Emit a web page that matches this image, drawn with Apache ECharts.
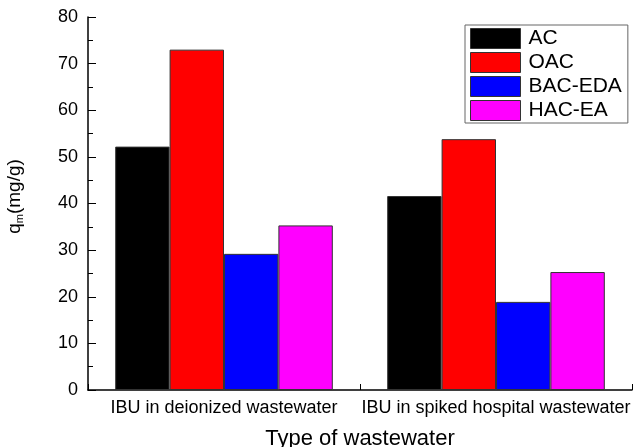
<!DOCTYPE html>
<html>
<head>
<meta charset="utf-8">
<script src="https://cdn.jsdelivr.net/npm/echarts@6/dist/echarts.min.js"></script>
<style>
  html, body { margin: 0; padding: 0; background: #fff; }
  #chart { width: 633px; height: 447px; }
</style>
</head>
<body>
<div id="chart"></div>
<script>
// Adsorption capacity q_m of ibuprofen on four carbons, per wastewater type
var categories = ['IBU in deionized wastewater', 'IBU in spiked hospital wastewater'];
var seriesNames = ['AC', 'OAC', 'BAC-EDA', 'HAC-EA'];
var acValues = [52.2, 41.6];
var oacValues = [73.0, 53.8];
var bacEdaValues = [29.2, 18.9];
var hacEaValues = [35.3, 25.3];
var colors = ['#000000', '#ff0000', '#0000ff', '#ff00ff'];

var valueSets = [acValues, oacValues, bacEdaValues, hacEaValues];
var font = 'Liberation Sans, Arial, sans-serif';

var chart = echarts.init(document.getElementById('chart'));
chart.setOption({
  animation: false,
  backgroundColor: '#fff',
  textStyle: { fontFamily: font, color: '#000' },
  grid: { left: 88, right: 1, top: 17, bottom: 57, containLabel: false, outerBoundsMode: 'none' },
  legend: {
    left: 465,
    top: 25,
    orient: 'vertical',
    itemWidth: 50,
    itemHeight: 20,
    itemGap: 3,
    padding: [3, 6, 2, 5],
    borderColor: '#666',
    borderWidth: 1,
    icon: 'rect',
    itemStyle: { borderColor: '#333', borderWidth: 1 },
    textStyle: { fontSize: 21, lineHeight: 20, color: '#000', fontFamily: font, padding: [0, 0, 0, 3] },
    data: seriesNames
  },
  xAxis: {
    type: 'category',
    data: categories,
    name: 'Type of wastewater',
    nameLocation: 'middle',
    nameGap: 38,
    nameTextStyle: { fontSize: 22, color: '#000' },
    axisLine: { lineStyle: { color: '#000', width: 1.5 } },
    axisTick: { show: true, inside: true, length: 6, lineStyle: { color: '#000' } },
    axisLabel: { fontSize: 18, color: '#000', margin: 9, interval: 0 }
  },
  yAxis: {
    type: 'value',
    min: 0,
    max: 80,
    interval: 10,
    name: '{a|q}{s|m}{a|(mg/g)}',
    nameLocation: 'middle',
    nameGap: 63,
    nameRotate: 90,
    nameTextStyle: {
      padding: [0, 0, 0, 14],
      rich: {
        a: { fontSize: 19, color: '#000', fontFamily: font },
        s: { fontSize: 11, color: '#000', fontFamily: font, verticalAlign: 'bottom', padding: [10, 0, 0, 0] }
      }
    },
    splitLine: { show: false },
    axisLine: { show: true, lineStyle: { color: '#000', width: 1.5 } },
    axisTick: { show: true, inside: true, length: 8, lineStyle: { color: '#000' } },
    minorTick: { show: true, splitNumber: 2, length: 5, lineStyle: { color: '#000' } },
    axisLabel: { fontSize: 18, color: '#000', margin: 10 }
  },
  series: seriesNames.map(function (name, i) {
    return {
      name: name,
      type: 'bar',
      data: valueSets[i],
      barWidth: '20%',
      barGap: '0%',
      itemStyle: { color: colors[i], borderColor: '#333', borderWidth: 1 }
    };
  })
});
</script>
</body>
</html>
